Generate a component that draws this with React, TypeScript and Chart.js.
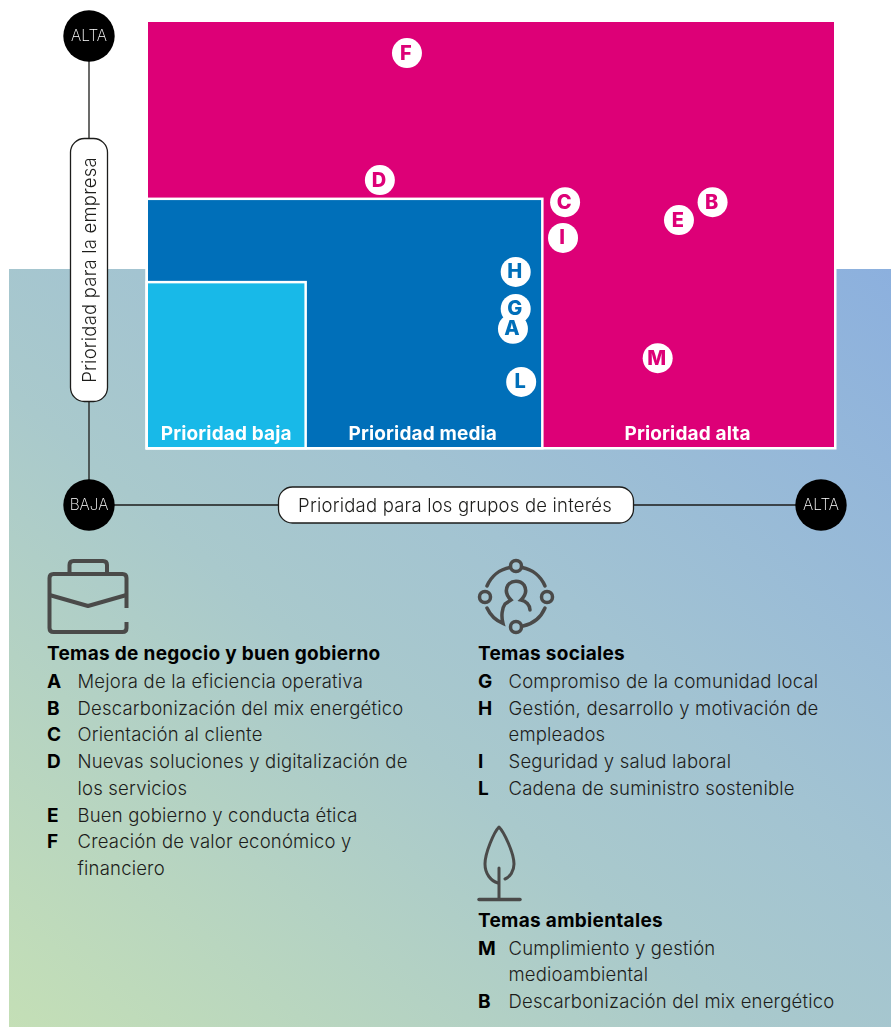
import React, { useEffect, useRef } from "react";
import { Chart, registerables } from "chart.js";

Chart.register(...registerables);

const pointLetters = ["F", "D", "C", "I", "B", "E", "M"];
const pointX = [37.75, 33.8, 60.8, 60.5, 82.3, 77.4, 74.3];
const pointY = [92.7, 62.8, 57.6, 49.2, 57.6, 53.4, 20.9];
const midLetters = ["H", "G", "A", "L"];
const midX = [53.6, 53.6, 53.2, 54.4];
const midY = [41.2, 32.5, 27.8, 15.3];

const zoneNames = ["Prioridad alta", "Prioridad media", "Prioridad baja"];
const zoneXMax = [100, 57.3, 22.8];
const zoneYMax = [100, 58.1, 38.5];
const zoneColors = ["#dd0077", "#006fb9", "#18b9e8"];

const axisY = "Prioridad para la empresa";
const axisX = "Prioridad para los grupos de interés";
const axisHigh = "ALTA";
const axisLow = "BAJA";

const SANS = "Inter, sans-serif";
const PINK = "#dd0077";
const BLUE = "#006fb9";

type Line = { top: number; left: number; key?: string; text: string; bold?: boolean };
const col1: Line[] = [
  { top: 654, left: 47, text: "Temas de negocio y buen gobierno", bold: true },
  { top: 681, left: 47, key: "A", text: "Mejora de la eficiencia operativa" },
  { top: 708, left: 47, key: "B", text: "Descarbonización del mix energético" },
  { top: 734, left: 47, key: "C", text: "Orientación al cliente" },
  { top: 761, left: 47, key: "D", text: "Nuevas soluciones y digitalización de" },
  { top: 788, left: 47, key: "", text: "los servicios" },
  { top: 815, left: 47, key: "E", text: "Buen gobierno y conducta ética" },
  { top: 841, left: 47, key: "F", text: "Creación de valor económico y" },
  { top: 868, left: 47, key: "", text: "financiero" },
];
const col2: Line[] = [
  { top: 654, left: 478, text: "Temas sociales", bold: true },
  { top: 681, left: 478, key: "G", text: "Compromiso de la comunidad local" },
  { top: 708, left: 478, key: "H", text: "Gestión, desarrollo y motivación de" },
  { top: 734, left: 478, key: "", text: "empleados" },
  { top: 761, left: 478, key: "I", text: "Seguridad y salud laboral" },
  { top: 788, left: 478, key: "L", text: "Cadena de suministro sostenible" },
  { top: 921, left: 478, text: "Temas ambientales", bold: true },
  { top: 948, left: 478, key: "M", text: "Cumplimiento y gestión" },
  { top: 974, left: 478, key: "", text: "medioambiental" },
  { top: 1001, left: 478, key: "B", text: "Descarbonización del mix energético" },
];

function roundRect(ctx: CanvasRenderingContext2D, x: number, y: number, w: number, h: number, r: number) {
  ctx.beginPath();
  ctx.roundRect(x, y, w, h, r);
}

const framePlugin = {
  id: "frame",
  beforeDatasetsDraw(chart: any) {
    const { ctx, scales } = chart;
    const { x, y } = scales;
    ctx.save();
    zoneNames.forEach((name, i) => {
      const x0 = x.getPixelForValue(0);
      const x1 = x.getPixelForValue(zoneXMax[i]);
      const y0 = y.getPixelForValue(zoneYMax[i]);
      const y1 = y.getPixelForValue(0);
      ctx.fillStyle = "#fff";
      ctx.fillRect(x0 - 2.5, y0 - 2.5, x1 - x0 + 5, y1 - y0 + 5);
      ctx.fillStyle = zoneColors[i];
      ctx.fillRect(x0, y0, x1 - x0, y1 - y0);
    });
    ctx.fillStyle = "#fff";
    ctx.font = `700 19px ${SANS}`;
    (ctx as any).letterSpacing = "0.15px";
    ctx.textAlign = "center";
    ctx.textBaseline = "middle";
    zoneNames.forEach((name, i) => {
      const next = i + 1 < zoneXMax.length ? zoneXMax[i + 1] : 0;
      const left = x.getPixelForValue(next);
      const right = x.getPixelForValue(zoneXMax[i]);
      ctx.fillText(name, (left + right) / 2, y.getPixelForValue(0) - 12.5);
    });
    ctx.restore();

    const ax = 89, ay = 505, topY = 36, rightX = 821;
    ctx.save();
    ctx.strokeStyle = "#1d1d1b";
    ctx.lineWidth = 1.3;
    ctx.beginPath();
    ctx.moveTo(ax, topY);
    ctx.lineTo(ax, ay);
    ctx.moveTo(ax, ay);
    ctx.lineTo(rightX, ay);
    ctx.stroke();
    [[ax, topY, axisHigh], [ax, ay, axisLow], [rightX, ay, axisHigh]].forEach(([cx, cy, t]: any) => {
      ctx.fillStyle = "#000";
      ctx.beginPath();
      ctx.arc(cx, cy, 25.7, 0, Math.PI * 2);
      ctx.fill();
      ctx.fillStyle = "#fff";
      ctx.font = `200 15.5px ${SANS}`;
      ctx.textAlign = "center";
      ctx.textBaseline = "middle";
      ctx.fillText(t, cx, cy + 0.5);
    });
    ctx.lineWidth = 1.3;
    ctx.fillStyle = "#fff";
    roundRect(ctx, 70.5, 138.5, 37, 263, 14);
    ctx.fill();
    ctx.stroke();
    roundRect(ctx, 278.5, 487, 355, 36, 14);
    ctx.fill();
    ctx.stroke();
    ctx.fillStyle = "#1d1d1b";
    ctx.font = `300 18.5px ${SANS}`;
    (ctx as any).letterSpacing = "0.2px";
    ctx.textAlign = "center";
    ctx.textBaseline = "middle";
    ctx.fillText(axisX, 455, 506);
    ctx.translate(90, 270);
    ctx.rotate(-Math.PI / 2);
    ctx.fillText(axisY, 0, 0);
    ctx.restore();
  },
  afterDatasetsDraw(chart: any) {
    const { ctx } = chart;
    ctx.save();
    ctx.font = `800 20px ${SANS}`;
    ctx.textAlign = "center";
    ctx.textBaseline = "middle";
    const groups: [string[], number, string][] = [
      [pointLetters, 0, PINK],
      [midLetters, 1, BLUE],
    ];
    groups.forEach(([letters, idx, color]) => {
      const meta = chart.getDatasetMeta(idx);
      letters.forEach((l, i) => {
        const p = meta.data[i];
        ctx.fillStyle = color;
        ctx.fillText(l, p.x - 1, p.y + 0.5);
      });
    });
    ctx.restore();
  },
};

function TextLine({ line }: { line: Line }) {
  const base: React.CSSProperties = {
    position: "absolute",
    top: line.top - 13,
    height: 26,
    lineHeight: "26px",
    whiteSpace: "nowrap",
    color: "#1d1d1b",
    fontFamily: SANS,
    fontSize: 18.5,
  };
  if (line.bold) {
    return <div style={{ ...base, left: line.left, fontSize: 19, letterSpacing: "0.3px", fontWeight: 700, color: "#000" }}>{line.text}</div>;
  }
  return (
    <>
      {line.key ? <div style={{ ...base, top: line.top - 12, left: line.left, fontSize: 19, fontWeight: 700, color: "#000" }}>{line.key}</div> : null}
      <div style={{ ...base, left: line.left + 30.5, fontWeight: 300, letterSpacing: "0.2px" }}>{line.text}</div>
    </>
  );
}

function Icons() {
  const stroke = "#4a4a49";
  return (
    <svg width={891} height={1027} style={{ position: "absolute", left: 0, top: 0 }} fill="none" stroke={stroke}>
      <g strokeWidth={4} strokeLinejoin="round">
        <path d="M126.5 608 V578 Q126.5 574 122.5 574 H53.5 Q49.5 574 49.5 578 V628 Q49.5 632 53.5 632 H122.5 Q126.5 632 126.5 628 V622" />
        <path d="M69.5 574 V565 Q69.5 561 73.5 561 H103 Q107 561 107 565 V574" />
        <path d="M49.5 595 L88 606 L126.5 595" />
      </g>
      <g strokeWidth={3.5} strokeLinecap="round">
        <path d="M522 567.5 A31 31 0 0 1 545 586" />
        <path d="M545 608 A31 31 0 0 1 523 626" />
        <path d="M510 567.5 A31 31 0 0 0 487 586" />
        <path d="M487 608 A31 31 0 0 0 503 623.5 C501 616 502 608 505 604 L511 600 C506 595 505 590 508 585 C512 580 520 580 524 585 C527 590 526 595 521 600 C526 601 530 605 530 610" />
        <circle cx={516} cy={566} r={5.5} />
        <circle cx={547} cy={597} r={5.5} />
        <circle cx={516} cy={627} r={5.5} />
        <circle cx={485} cy={597} r={5.5} />
      </g>
      <g strokeWidth={3} strokeLinecap="round" strokeLinejoin="round">
        <path d="M505 879 C510 877 514 871 514 864 C514 853 504 832 499 827 C494 832 485 853 485 864 C485 874 491 881 498 883" />
        <path d="M499 868 V899" />
        <path d="M479 899.5 H520" strokeWidth={3.5} />
      </g>
    </svg>
  );
}

export default function App() {
  const ref = useRef<HTMLCanvasElement>(null);
  useEffect(() => {
    const chart = new Chart(ref.current!, {
      type: "scatter",
      data: {
        datasets: [
          {
            label: "Prioridad alta",
            data: pointX.map((x, i) => ({ x, y: pointY[i] })),
            backgroundColor: "#fff",
            borderWidth: 0,
            pointRadius: 15,
            pointHoverRadius: 15,
          },
          {
            label: "Prioridad media",
            data: midX.map((x, i) => ({ x, y: midY[i] })),
            backgroundColor: "#fff",
            borderWidth: 0,
            pointRadius: 15,
            pointHoverRadius: 15,
          },
        ],
      },
      options: {
        animation: false,
        responsive: false,
        events: [],
        layout: { padding: { left: 148, right: 57, top: 22, bottom: 580 } },
        plugins: { legend: { display: false }, tooltip: { enabled: false } },
        scales: {
          x: { type: "linear", min: 0, max: 100, display: false },
          y: { type: "linear", min: 0, max: 100, display: false },
        },
      },
      plugins: [framePlugin],
    });
    return () => chart.destroy();
  }, []);
  return (
    <div style={{ position: "absolute", left: 0, top: 0, width: 891, height: 1027, overflow: "hidden", background: "#fff" }}>
      <div
        style={{
          position: "absolute",
          left: 9,
          top: 269,
          width: 882,
          height: 758,
          background: "linear-gradient(to top right, #c4dfb6 0%, #a9c9cc 42%, #a2c3d2 60%, #8cb0de 100%)",
        }}
      />
      <Icons />
      {col1.map((l, i) => <TextLine key={"a" + i} line={l} />)}
      {col2.map((l, i) => <TextLine key={"b" + i} line={l} />)}
      <canvas ref={ref} width={891} height={1027} style={{ position: "absolute", left: 0, top: 0, width: 891, height: 1027 }} />
    </div>
  );
}
